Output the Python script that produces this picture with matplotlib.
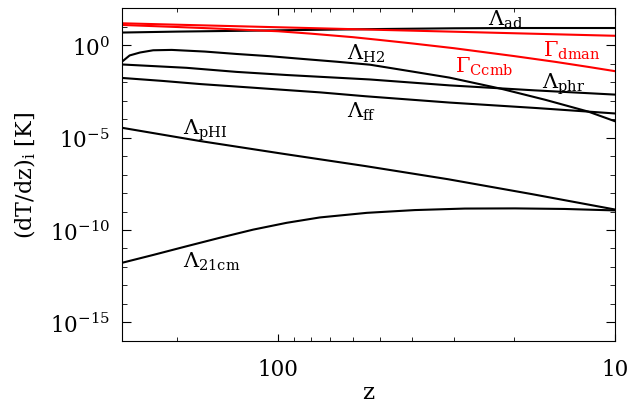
import matplotlib
matplotlib.use("Agg")
import matplotlib.pyplot as plt
from matplotlib.ticker import LogLocator, NullFormatter

plt.rcParams['font.family'] = 'serif'
plt.rcParams['font.serif'] = ['DejaVu Serif']
plt.rcParams['mathtext.fontset'] = 'dejavuserif'

# values: redshift z and (dT/dz)_i in K
z_ad = [290, 200, 100, 75, 50, 30, 20, 10]
lam_ad = [4.90, 5.50, 6.46, 6.92, 7.59, 8.32, 8.61, 8.61]

z_dman = [290, 200, 100, 50, 30, 20, 10]
gam_dman = [15.5, 13.0, 9.46, 6.84, 5.43, 4.49, 3.27]

z_ccmb = [290, 200, 150, 120, 100, 80, 60, 50, 40, 30, 25, 20, 15, 12, 10]
gam_ccmb = [12.6, 9.77, 7.94, 6.61, 5.75, 4.27, 2.75, 1.95, 1.26,
            0.692, 0.447, 0.263, 0.126, 0.0676, 0.0398]

z_h2 = [290, 276, 257, 235, 207, 165, 133, 106, 84.5, 67, 53.4, 40,
        31, 21.7, 16.1, 12, 10]
lam_h2 = [0.135, 0.282, 0.407, 0.537, 0.562, 0.457, 0.339, 0.257, 0.182,
          0.129, 0.0891, 0.0380, 0.0178, 4.37e-3, 1.12e-3, 2.57e-4, 7.76e-5]

z_phr = [290, 187, 133, 94, 53.4, 31, 17.3, 10]
lam_phr = [0.0912, 0.0603, 0.0363, 0.0245, 0.0141, 6.76e-3, 3.63e-3, 2.14e-3]

z_ff = [290, 220, 170, 120, 95, 75, 55, 31, 17, 10]
lam_ff = [0.0170, 0.01175, 7.94e-3, 5.13e-3, 3.80e-3, 2.82e-3, 1.74e-3,
          7.94e-4, 3.98e-4, 2.04e-4]

z_phi = [290, 171, 97, 55, 31.3, 17.6, 10]
lam_phi = [3.39e-5, 6.61e-6, 1.35e-6, 2.88e-7, 5.62e-8, 8.71e-9, 1.29e-9]

z_21 = [290, 235, 187, 149, 118.6, 94.4, 75.2, 54.5, 39.3, 27.9, 19.8, 14.1, 10]
lam_21 = [1.70e-12, 4.47e-12, 1.32e-11, 3.80e-11, 1.05e-10, 2.45e-10, 4.79e-10,
          8.51e-10, 1.20e-9, 1.45e-9, 1.48e-9, 1.38e-9, 1.15e-9]

fig = plt.figure(figsize=(6.31, 4.06), dpi=100)
ax = fig.add_axes([0.194, 0.158, 0.7805, 0.819])

lw = 1.5
for zz, vv in [(z_ad, lam_ad), (z_h2, lam_h2), (z_phr, lam_phr),
               (z_ff, lam_ff), (z_phi, lam_phi), (z_21, lam_21)]:
    ax.plot(zz, vv, color='black', lw=lw)
ax.plot(z_dman, gam_dman, color='red', lw=lw)
ax.plot(z_ccmb, gam_ccmb, color='red', lw=lw)

ax.set_xscale('log')
ax.set_yscale('log')
ax.set_xlim(290, 10)
ax.set_ylim(1e-16, 1e2)

ax.set_xticks([100, 10], labels=['100', '10'])
ax.xaxis.set_minor_formatter(NullFormatter())
ax.set_yticks([1e-15, 1e-10, 1e-5, 1e0])
ax.yaxis.set_minor_locator(LogLocator(base=10, subs=(1.0,), numticks=40))
ax.yaxis.set_minor_formatter(NullFormatter())

ax.tick_params(which='both', direction='in', top=True, right=True, labelsize=15.5)
ax.tick_params(axis='x', which='major', length=4.8, pad=12)
ax.tick_params(axis='x', which='minor', length=2.9)
ax.tick_params(axis='y', which='major', length=6.5, pad=9)
ax.tick_params(axis='y', which='minor', length=3.8)

ax.set_xlabel('z', fontsize=16.5)
ax.xaxis.set_label_coords(0.5, -0.122)
ax.set_ylabel(r'(dT/dz)$_{\rm i}$ [K]', fontsize=16)
ax.yaxis.set_label_coords(-0.171, 0.5)

fs = 15
ax.text(23.8, 13.8, r'$\Lambda_{\rm ad}$', fontsize=fs)
ax.text(16.4, 0.289, r'$\Gamma_{\rm dman}$', fontsize=fs, color='red')
ax.text(29.9, 0.0395, r'$\Gamma_{\rm Ccmb}$', fontsize=fs, color='red')
ax.text(16.5, 4.81e-3, r'$\Lambda_{\rm phr}$', fontsize=fs)
ax.text(62.5, 0.181, r'$\Lambda_{\rm H2}$', fontsize=fs)
ax.text(62.5, 1.44e-4, r'$\Lambda_{\rm ff}$', fontsize=fs)
ax.text(192, 1.55e-5, r'$\Lambda_{\rm pHI}$', fontsize=fs)
ax.text(192, 1.05e-12, r'$\Lambda_{\rm 21cm}$', fontsize=fs)

fig.savefig('out.png', dpi=100)
